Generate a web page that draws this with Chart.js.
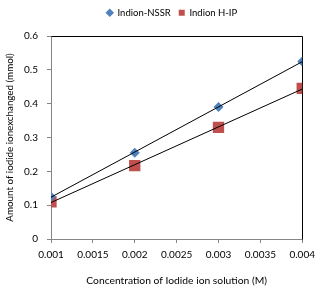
<!DOCTYPE html>
<html><head><meta charset="utf-8">
<script src="https://cdn.jsdelivr.net/npm/chart.js@4/dist/chart.umd.min.js"></script>
<style>html,body{margin:0;padding:0;background:#fff}#wrap{width:321px;height:291px}</style>
</head><body><div id="wrap"><canvas id="c" width="321" height="291"></canvas></div>
<script>
const concentrations = [0.001, 0.002, 0.003, 0.004];
const nssrValues = [0.125, 0.255, 0.39, 0.525];
const hipValues = [0.11, 0.217, 0.33, 0.445];
const seriesNames = ['Indion-NSSR', 'Indion H-IP'];
const xTitle = 'Concentration of Iodide ion solution (M)';
const yTitle = 'Amount of iodide ionexchanged (mmol)';

function fit(xs, ys) {
  const n = xs.length;
  const mx = xs.reduce((a, b) => a + b, 0) / n;
  const my = ys.reduce((a, b) => a + b, 0) / n;
  let sxy = 0, sxx = 0;
  for (let i = 0; i < n; i++) { sxy += (xs[i] - mx) * (ys[i] - my); sxx += (xs[i] - mx) ** 2; }
  const m = sxy / sxx, b = my - m * mx;
  return [xs[0], xs[n - 1]].map(x => ({x, y: m * x + b}));
}
const pts = (xs, ys) => xs.map((x, i) => ({x, y: ys[i]}));

const frame = {
  id: 'frame',
  afterInit(chart) {
    const lg = chart.legend;
    if (lg) {
      const orig = lg.fit.bind(lg);
      lg.fit = function () { orig(); this.height = 36; };
    }
  },
  afterLayout(chart) {
    const lg = chart.legend;
    if (lg) { lg.left += 16; lg.right += 16; }
  },
  beforeDatasetsDraw(chart) {
    const {ctx, chartArea: a} = chart;
    ctx.save();
    ctx.strokeStyle = '#000'; ctx.lineWidth = 1;
    ctx.beginPath();
    ctx.moveTo(Math.round(a.left) + 0.5, Math.round(a.top) + 0.5);
    ctx.lineTo(Math.round(a.right) + 0.5, Math.round(a.top) + 0.5);
    ctx.lineTo(Math.round(a.right) + 0.5, Math.round(a.bottom) + 0.5);
    ctx.stroke();
    ctx.restore();
  }
};

Chart.defaults.font.family = 'Lato, "Open Sans", sans-serif';
Chart.defaults.color = '#000';

new Chart(document.getElementById('c'), {
  type: 'scatter',
  data: {
    datasets: [
      {label: seriesNames[0], data: pts(concentrations, nssrValues), pointStyle: 'rectRot', pointRadius: 5, pointHoverRadius: 5, backgroundColor: '#4F81BD', borderColor: '#4F81BD', borderWidth: 0, order: 2},
      {label: seriesNames[1], data: pts(concentrations, hipValues), pointStyle: 'rect', pointRadius: 8, pointHoverRadius: 8, backgroundColor: '#C0504D', borderColor: '#C0504D', borderWidth: 0, order: 2},
      {label: 'trend1', type: 'line', data: fit(concentrations, nssrValues), borderColor: '#000', borderWidth: 1, pointRadius: 0, fill: false, order: 0},
      {label: 'trend2', type: 'line', data: fit(concentrations, hipValues), borderColor: '#000', borderWidth: 1, pointRadius: 0, fill: false, order: 0}
    ]
  },
  options: {
    responsive: false,
    animation: false,
    devicePixelRatio: 1,
    layout: {autoPadding: false, padding: {left: 4, right: 13, top: 0, bottom: 4}},
    plugins: {
      tooltip: {enabled: false},
      legend: {
        position: 'top',
        labels: {
          usePointStyle: true, boxWidth: 6, boxHeight: 6, padding: 8,
          font: {size: 9.5},
          filter: item => item.datasetIndex < 2
        }
      }
    },
    scales: {
      x: {
        type: 'linear', min: 0.001, max: 0.004,
        ticks: {stepSize: 0.0005, font: {size: 10}, padding: 6, maxRotation: 0,
          callback: v => String(+v.toFixed(4))},
        grid: {drawOnChartArea: false, tickLength: 4, color: '#868686'},
        border: {color: '#868686'},
        title: {display: true, text: xTitle, font: {size: 10.3}, padding: {top: 12, bottom: 0}},
        afterFit(s) { s.height = 48; }
      },
      y: {
        min: 0, max: 0.6,
        ticks: {stepSize: 0.1, font: {size: 10}, padding: 9,
          callback: v => String(+v.toFixed(1))},
        grid: {drawOnChartArea: false, tickLength: 4, color: '#868686'},
        border: {color: '#868686'},
        title: {display: true, text: yTitle, font: {size: 9.8}, padding: {top: 0, bottom: 4}},
        afterFit(s) { s.width = 47; }
      }
    }
  },
  plugins: [frame]
});
</script></body></html>
